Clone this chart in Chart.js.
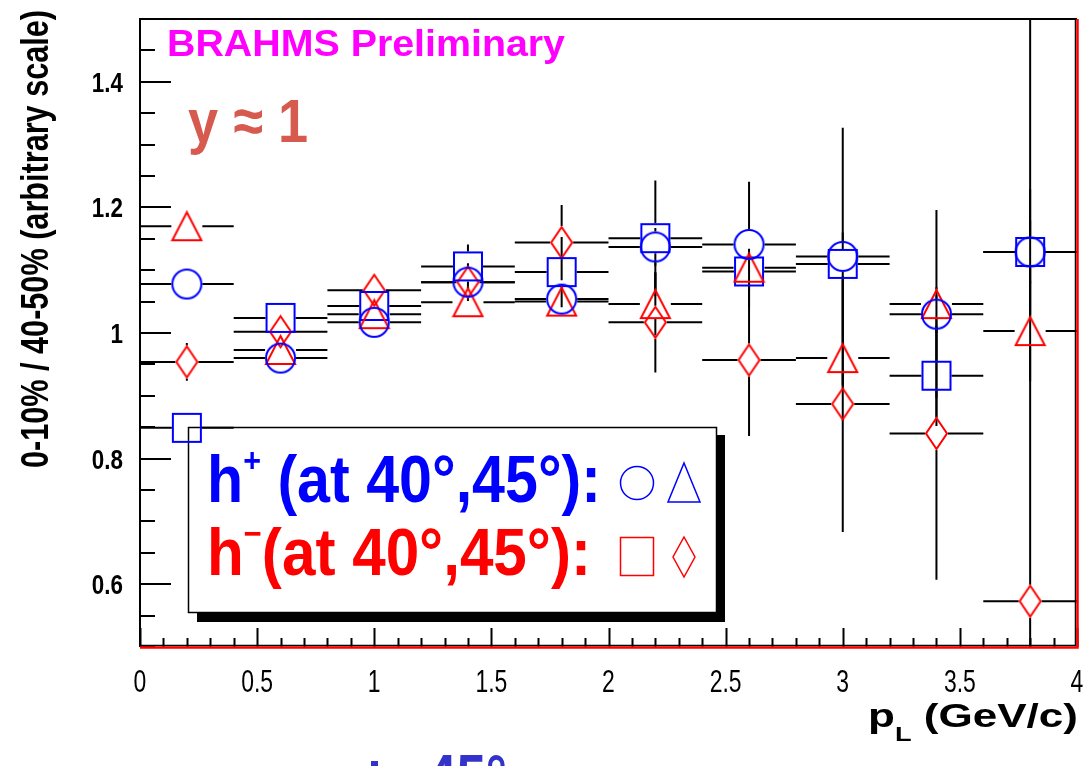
<!DOCTYPE html>
<html>
<head>
<meta charset="utf-8">
<script src="https://cdn.jsdelivr.net/npm/chart.js@4.4.1/dist/chart.umd.min.js"></script>
<style>
  html, body { margin: 0; padding: 0; background: #fff; }
  canvas { display: block; }
</style>
</head>
<body>
<canvas id="myChart" width="1086" height="766"></canvas>
<script>
// p_L bins (GeV/c) and half bin width (horizontal error bars)
var pL = [0.2, 0.6, 1.0, 1.4, 1.8, 2.2, 2.6, 3.0, 3.4, 3.8];
var pLHalf = [0.2, 0.2, 0.2, 0.2, 0.2, 0.2, 0.2, 0.2, 0.2, 0.2];

// ratio 0-10% / 40-50%
var circleVals = [1.078, 0.960, 1.017, 1.081, 1.054, 1.137, 1.141, 1.122, 1.030, 1.129];
var circleErr  = [0.010, 0.010, 0.010, 0.030, 0.020, 0.030, 0.100, 0.205, 0.030, 0.050];
var triangleVals = [1.170, 0.973, 1.030, 1.049, 1.050, 1.046, 1.104, 0.960, 1.046, 1.003];
var triangleErr  = [0.010, 0.015, 0.020, 0.020, 0.020, 0.050, 0.030, 0.100, 0.150, 0.080];
var squareVals = [0.849, 1.024, 1.043, 1.106, 1.097, 1.151, 1.098, 1.110, 0.932, 1.129];
var squareErr  = [0.010, 0.015, 0.020, 0.035, 0.056, 0.092, 0.030, 0.050, 0.080, 0.100];
var diamondVals = [0.954, 1.002, 1.068, 1.081, 1.144, 1.017, 0.957, 0.887, 0.840, 0.573];
var diamondErr  = [0.030, 0.020, 0.020, 0.020, 0.060, 0.080, 0.121, 0.204, 0.233, 1.000];

var xTickVals = [0, 0.5, 1, 1.5, 2, 2.5, 3, 3.5, 4];
var yTickVals = [0.6, 0.8, 1, 1.2, 1.4];

var SANS = '"Liberation Sans", Arial, sans-serif';

function makeMarker(shape, color, w, h) {
    var c = document.createElement('canvas');
    c.width = w + 4;
    c.height = h + 4;
    var g = c.getContext('2d');
    var cx = c.width / 2, cy = c.height / 2;
    g.strokeStyle = color;
    g.lineWidth = 2;
    g.beginPath();
    if (shape === 'circle') {
        g.arc(cx, cy, w / 2, 0, Math.PI * 2);
    } else if (shape === 'square') {
        g.rect(cx - w / 2, cy - h / 2, w, h);
    } else if (shape === 'triangle') {
        g.moveTo(cx, cy - h / 2);
        g.lineTo(cx + w / 2, cy + h / 2);
        g.lineTo(cx - w / 2, cy + h / 2);
        g.closePath();
    } else {
        g.moveTo(cx, cy - h / 2);
        g.lineTo(cx + w / 2, cy);
        g.lineTo(cx, cy + h / 2);
        g.lineTo(cx - w / 2, cy);
        g.closePath();
    }
    g.stroke();
    return c;
}

function toPoints(vals) {
    return vals.map(function(v, i) { return { x: pL[i], y: v }; });
}

function makeSet(label, vals, errs, shape, color, w, h) {
    return {
        label: label,
        data: toPoints(vals),
        yErr: errs,
        halfW: w / 2 + 1,
        halfH: h / 2 + 1,
        pointStyle: makeMarker(shape, color, w, h),
        pointRadius: 15,
        pointHoverRadius: 15,
        showLine: false
    };
}

// draw text squeezed horizontally by a factor
function squeezeText(ctx, str, x, y, sx, font, color, align) {
    ctx.save();
    ctx.font = font;
    var m = ctx.measureText(str).width * sx;
    var x0 = align === 'center' ? x - m / 2 : (align === 'right' ? x - m : x);
    ctx.translate(x0, y);
    ctx.scale(sx, 1);
    ctx.fillStyle = color;
    ctx.textAlign = 'left';
    ctx.textBaseline = 'alphabetic';
    ctx.fillText(str, 0, 0);
    ctx.restore();
}

// draw text squeezed/stretched horizontally to a given width
function fitText(ctx, str, x, y, w, font, color) {
    ctx.save();
    ctx.font = font;
    var m = ctx.measureText(str).width;
    ctx.restore();
    squeezeText(ctx, str, x, y, w / m, font, color, 'left');
}

// several text pieces (with sub/superscripts) fitted to a width
function fitPieces(ctx, pieces, x, y, w, color) {
    var total = 0;
    ctx.save();
    pieces.forEach(function(p) {
        ctx.font = p.font;
        p.w = ctx.measureText(p.t).width;
        total += p.w;
    });
    ctx.translate(x, y);
    ctx.scale(w / total, 1);
    ctx.fillStyle = color;
    ctx.textBaseline = 'alphabetic';
    var cx = 0;
    pieces.forEach(function(p) {
        ctx.font = p.font;
        ctx.fillText(p.t, cx, p.dy || 0);
        cx += p.w;
    });
    ctx.restore();
}

function noPad(s) {
    s.paddingLeft = 0;
    s.paddingRight = 0;
    s.paddingTop = 0;
    s.paddingBottom = 0;
}

var rootStyle = {
    id: 'rootStyle',
    beforeDatasetsDraw: function(chart) {
        var ctx = chart.ctx;
        var xs = chart.scales.x, ys = chart.scales.y;
        var area = chart.chartArea;

        // legend box with shadow
        ctx.save();
        ctx.fillStyle = '#000';
        ctx.fillRect(717, 435, 8, 187);
        ctx.fillRect(197, 613, 528, 9);
        ctx.fillStyle = '#fff';
        ctx.fillRect(188, 427, 529, 186);
        ctx.strokeStyle = '#000';
        ctx.lineWidth = 1.5;
        ctx.strokeRect(188.5, 427.5, 528, 185);

        fitPieces(ctx, [
            { t: 'h', font: 'bold 66px ' + SANS },
            { t: '+', font: 'bold 34px ' + SANS, dy: -30 },
            { t: ' (at 40\u00b0,45\u00b0):', font: 'bold 66px ' + SANS }
        ], 207, 502, 394, '#0000ff');
        fitPieces(ctx, [
            { t: 'h', font: 'bold 66px ' + SANS },
            { t: '\u2212', font: 'bold 34px ' + SANS, dy: -30 },
            { t: '(at 40\u00b0,45\u00b0):', font: 'bold 66px ' + SANS }
        ], 207, 575, 384, '#ff0000');

        ctx.lineWidth = 1.5;
        ctx.strokeStyle = '#0000ff';
        ctx.beginPath();
        ctx.arc(637, 483, 16.5, 0, Math.PI * 2);
        ctx.stroke();
        ctx.beginPath();
        ctx.moveTo(684, 463); ctx.lineTo(700, 502); ctx.lineTo(668, 502); ctx.closePath();
        ctx.stroke();
        ctx.strokeStyle = '#ff0000';
        ctx.strokeRect(620.5, 537.5, 33, 38);
        ctx.beginPath();
        ctx.moveTo(684, 537); ctx.lineTo(695, 557); ctx.lineTo(684, 577); ctx.lineTo(673, 557); ctx.closePath();
        ctx.stroke();
        ctx.restore();

        // error bars, with a gap where the own marker sits
        ctx.save();
        ctx.beginPath();
        ctx.rect(area.left, area.top, area.right - area.left, area.bottom - area.top);
        ctx.clip();
        ctx.strokeStyle = '#000';
        ctx.lineWidth = 2;
        chart.data.datasets.forEach(function(ds) {
            ds.data.forEach(function(p, i) {
                var px = xs.getPixelForValue(p.x);
                var py = ys.getPixelForValue(p.y);
                var xl = xs.getPixelForValue(p.x - pLHalf[i]);
                var xr = xs.getPixelForValue(p.x + pLHalf[i]);
                var yt = ys.getPixelForValue(p.y + ds.yErr[i]);
                var yb = ys.getPixelForValue(p.y - ds.yErr[i]);
                ctx.beginPath();
                ctx.moveTo(xl, py); ctx.lineTo(px - ds.halfW, py);
                ctx.moveTo(px + ds.halfW, py); ctx.lineTo(xr, py);
                if (py - yt > ds.halfH) {
                    ctx.moveTo(px, yt); ctx.lineTo(px, py - ds.halfH);
                    ctx.moveTo(px, py + ds.halfH); ctx.lineTo(px, yb);
                }
                ctx.stroke();
            });
        });
        ctx.restore();
    },
    afterDraw: function(chart) {
        var ctx = chart.ctx;
        var xs = chart.scales.x, ys = chart.scales.y;
        var a = chart.chartArea;

        // tick labels from the scales' own ticks, in a narrow face
        xs.ticks.forEach(function(t) {
            squeezeText(ctx, String(t.value), xs.getPixelForValue(t.value), 692, 0.74,
                '31px ' + SANS, '#000', 'center');
        });
        ys.ticks.forEach(function(t) {
            squeezeText(ctx, String(t.value), 123, ys.getPixelForValue(t.value) + 10, 0.8,
                'bold 28px ' + SANS, '#000', 'right');
        });

        ctx.save();
        ctx.strokeStyle = '#000';
        ctx.lineWidth = 2;

        // ticks drawn inside the frame, ROOT style
        ctx.beginPath();
        for (var k = 0; k <= 20; k++) {
            var yv = 0.5 + k * 0.05;
            var yp = Math.round(ys.getPixelForValue(yv));
            var major = Math.abs(Math.round(yv * 10) / 10 - yv) < 1e-6 && Math.round(yv * 10) % 2 === 0;
            ctx.moveTo(a.left, yp);
            ctx.lineTo(a.left + (major ? 31 : 15), yp);
        }
        for (var j = 0; j <= 40; j++) {
            var xv = j * 0.1;
            var xp = Math.round(xs.getPixelForValue(xv)) + 0.5;
            var big = j % 5 === 0;
            ctx.moveTo(xp, a.bottom);
            ctx.lineTo(xp, a.bottom - (big ? 19 : 9));
        }
        ctx.stroke();

        // frame: black left/top, red right/bottom
        ctx.beginPath();
        ctx.moveTo(a.left, a.bottom);
        ctx.lineTo(a.left, a.top);
        ctx.lineTo(a.right, a.top);
        ctx.stroke();
        ctx.lineWidth = 1.5;
        ctx.beginPath();
        ctx.moveTo(a.right - 1.5, a.top);
        ctx.lineTo(a.right - 1.5, a.bottom - 1.5);
        ctx.lineTo(a.left, a.bottom - 1.5);
        ctx.stroke();
        ctx.strokeStyle = '#ff0000';
        ctx.lineWidth = 2.5;
        ctx.beginPath();
        ctx.moveTo(a.right + 0.5, a.top);
        ctx.lineTo(a.right + 0.5, a.bottom + 0.5);
        ctx.lineTo(a.left, a.bottom + 0.5);
        ctx.stroke();
        ctx.restore();

        // texts
        fitText(ctx, 'BRAHMS Preliminary', 167, 56, 398, 'bold 37px ' + SANS, '#ff00ff');
        fitText(ctx, 'y \u2248 1', 188, 142, 120, 'bold 62px ' + SANS, '#d65a4e');

        ctx.save();
        ctx.translate(48, 468);
        ctx.rotate(-Math.PI / 2);
        fitText(ctx, '0-10% / 40-50% (arbitrary scale)', 0, 0, 458, 'bold 38px ' + SANS, '#000');
        ctx.restore();

        fitPieces(ctx, [
            { t: 'p', font: 'bold 34px ' + SANS },
            { t: 'L', font: 'bold 21px ' + SANS, dy: 14 },
            { t: ' (GeV/c)', font: 'bold 34px ' + SANS }
        ], 868, 727, 210, '#000');

        // cut-off text from the slide below the plot
        fitText(ctx, '45\u00b0', 427, 800, 80, 'bold 64px ' + SANS, '#3333cc');
        ctx.save();
        ctx.fillStyle = '#3333cc';
        ctx.fillRect(371, 761, 7, 5);
        ctx.restore();
    }
};

var ctx1 = document.getElementById('myChart').getContext('2d');
var myChart = new Chart(ctx1, {
    type: 'scatter',
    data: {
        datasets: [
            makeSet('h+ 40\u00b0', circleVals, circleErr, 'circle', '#0000ff', 29, 29),
            makeSet('h+ 45\u00b0', triangleVals, triangleErr, 'triangle', '#ff0000', 29, 28),
            makeSet('h- 40\u00b0', squareVals, squareErr, 'square', '#0000ff', 28, 28),
            makeSet('h- 45\u00b0', diamondVals, diamondErr, 'diamond', '#ff0000', 21, 31)
        ]
    },
    options: {
        responsive: false,
        animation: false,
        layout: { autoPadding: false, padding: { top: 19, right: 9, left: 0, bottom: 0 } },
        plugins: {
            legend: { display: false },
            tooltip: { enabled: false }
        },
        scales: {
            x: {
                type: 'linear',
                min: 0,
                max: 4,
                grid: { display: false, drawTicks: false },
                border: { display: false },
                ticks: { display: false, autoSkip: false },
                afterBuildTicks: function(s) {
                    s.ticks = xTickVals.map(function(v) { return { value: v }; });
                },
                afterFit: function(s) { s.height = 119; noPad(s); }
            },
            y: {
                type: 'linear',
                min: 0.5,
                max: 1.5,
                grid: { display: false, drawTicks: false },
                border: { display: false },
                ticks: { display: false, autoSkip: false },
                afterBuildTicks: function(s) {
                    s.ticks = yTickVals.map(function(v) { return { value: v }; });
                },
                afterFit: function(s) { s.width = 140; noPad(s); }
            }
        }
    },
    plugins: [rootStyle]
});
</script>
</body>
</html>
